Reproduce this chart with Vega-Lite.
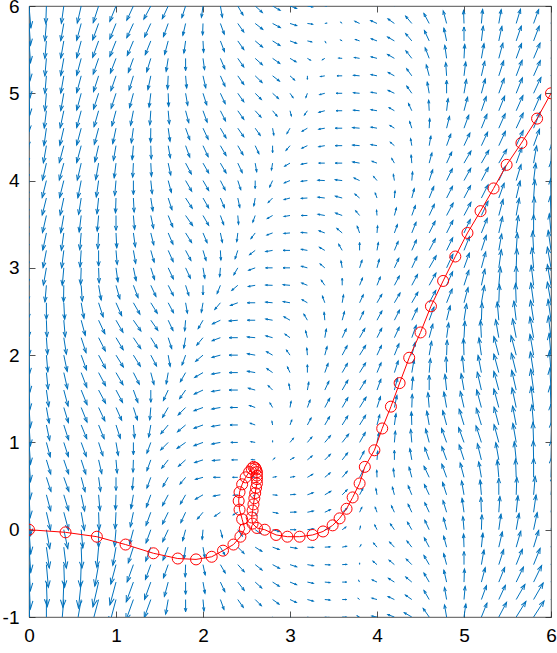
{
  "$schema": "https://vega.github.io/schema/vega-lite/v6.json",
  "width": 522,
  "height": 611,
  "autosize": {"type": "none"},
  "padding": {"left": 29, "top": 6, "right": 6, "bottom": 36},
  "background": "white",
  "config": {
    "view": {"stroke": "#262626", "strokeWidth": 0.8},
    "axis": {"domainColor": "#262626", "tickColor": "#262626", "labelColor": "#000000", "labelFont": "Liberation Sans", "labelFontSize": 19, "grid": false, "title": null, "domainWidth": 0.8, "tickWidth": 0.8, "labelFlush": false, "labelOverlap": false}
  },
  "datasets": {
    "field": [
{"x":0,"y":6,"a":-85,"m":0.25},{"x":0.2,"y":6,"a":-92,"m":0.2},{"x":0.4,"y":6,"a":-98,"m":0.2},{"x":0.6,"y":6,"a":-103,"m":0.2},{"x":0.8,"y":6,"a":-108,"m":0.2},{"x":1,"y":6,"a":-112,"m":0.19},{"x":1.2,"y":6,"a":-115,"m":0.18},{"x":1.4,"y":6,"a":-118,"m":0.17},{"x":1.6,"y":6,"a":-115,"m":0.16},{"x":1.8,"y":6,"a":-108,"m":0.14},{"x":2,"y":6,"a":-98,"m":0.13},{"x":2.2,"y":6,"a":-80,"m":0.13},{"x":2.4,"y":6,"a":-60,"m":0.12},{"x":2.6,"y":6,"a":-42,"m":0.11},{"x":2.8,"y":6,"a":-30,"m":0.1},{"x":3,"y":6,"a":-20,"m":0.08},{"x":3.2,"y":6,"a":-10,"m":0.06},{"x":3.4,"y":6,"a":0,"m":0.02},{"x":3.6,"y":6,"a":60,"m":0.02},{"x":3.8,"y":6,"a":130,"m":0.06},{"x":4,"y":6,"a":145,"m":0.08},{"x":4.2,"y":6,"a":140,"m":0.09},{"x":4.4,"y":6,"a":125,"m":0.11},{"x":4.6,"y":6,"a":112,"m":0.13},{"x":4.8,"y":6,"a":100,"m":0.15},{"x":5,"y":6,"a":90,"m":0.15},{"x":5.2,"y":6,"a":85,"m":0.16},{"x":5.4,"y":6,"a":80,"m":0.16},{"x":5.6,"y":6,"a":75,"m":0.17},{"x":5.8,"y":6,"a":72,"m":0.17},{"x":6,"y":6,"a":70,"m":0.18},
{"x":0,"y":5.8,"a":-86,"m":0.25},{"x":0.2,"y":5.8,"a":-95,"m":0.2},{"x":0.4,"y":5.8,"a":-100,"m":0.2},{"x":0.6,"y":5.8,"a":-105,"m":0.2},{"x":0.8,"y":5.8,"a":-110,"m":0.2},{"x":1,"y":5.8,"a":-112,"m":0.19},{"x":1.2,"y":5.8,"a":-115,"m":0.18},{"x":1.4,"y":5.8,"a":-115,"m":0.17},{"x":1.6,"y":5.8,"a":-110,"m":0.16},{"x":1.8,"y":5.8,"a":-103,"m":0.14},{"x":2,"y":5.8,"a":-92,"m":0.13},{"x":2.2,"y":5.8,"a":-70,"m":0.13},{"x":2.4,"y":5.8,"a":-55,"m":0.12},{"x":2.6,"y":5.8,"a":-38,"m":0.11},{"x":2.8,"y":5.8,"a":-28,"m":0.1},{"x":3,"y":5.8,"a":-18,"m":0.08},{"x":3.2,"y":5.8,"a":-8,"m":0.06},{"x":3.4,"y":5.8,"a":10,"m":0.02},{"x":3.6,"y":5.8,"a":140,"m":0.02},{"x":3.8,"y":5.8,"a":155,"m":0.06},{"x":4,"y":5.8,"a":155,"m":0.08},{"x":4.2,"y":5.8,"a":145,"m":0.09},{"x":4.4,"y":5.8,"a":130,"m":0.11},{"x":4.6,"y":5.8,"a":118,"m":0.13},{"x":4.8,"y":5.8,"a":105,"m":0.15},{"x":5,"y":5.8,"a":92,"m":0.15},{"x":5.2,"y":5.8,"a":85,"m":0.16},{"x":5.4,"y":5.8,"a":80,"m":0.16},{"x":5.6,"y":5.8,"a":73,"m":0.17},{"x":5.8,"y":5.8,"a":70,"m":0.17},{"x":6,"y":5.8,"a":70,"m":0.18},
{"x":0,"y":5.6,"a":-86,"m":0.25},{"x":0.2,"y":5.6,"a":-95,"m":0.2},{"x":0.4,"y":5.6,"a":-100,"m":0.2},{"x":0.6,"y":5.6,"a":-105,"m":0.2},{"x":0.8,"y":5.6,"a":-110,"m":0.2},{"x":1,"y":5.6,"a":-112,"m":0.19},{"x":1.2,"y":5.6,"a":-113,"m":0.18},{"x":1.4,"y":5.6,"a":-112,"m":0.17},{"x":1.6,"y":5.6,"a":-105,"m":0.16},{"x":1.8,"y":5.6,"a":-98,"m":0.14},{"x":2,"y":5.6,"a":-87,"m":0.13},{"x":2.2,"y":5.6,"a":-69,"m":0.13},{"x":2.4,"y":5.6,"a":-55,"m":0.12},{"x":2.6,"y":5.6,"a":-40,"m":0.11},{"x":2.8,"y":5.6,"a":-32,"m":0.1},{"x":3,"y":5.6,"a":-20,"m":0.08},{"x":3.2,"y":5.6,"a":-12,"m":0.05},{"x":3.4,"y":5.6,"a":-60,"m":0.02},{"x":3.6,"y":5.6,"a":150,"m":0.02},{"x":3.8,"y":5.6,"a":160,"m":0.05},{"x":4,"y":5.6,"a":160,"m":0.07},{"x":4.2,"y":5.6,"a":150,"m":0.09},{"x":4.4,"y":5.6,"a":130,"m":0.11},{"x":4.6,"y":5.6,"a":115,"m":0.13},{"x":4.8,"y":5.6,"a":102,"m":0.15},{"x":5,"y":5.6,"a":90,"m":0.16},{"x":5.2,"y":5.6,"a":83,"m":0.17},{"x":5.4,"y":5.6,"a":78,"m":0.17},{"x":5.6,"y":5.6,"a":71,"m":0.18},{"x":5.8,"y":5.6,"a":69,"m":0.18},{"x":6,"y":5.6,"a":69,"m":0.19},
{"x":0,"y":5.4,"a":-87,"m":0.25},{"x":0.2,"y":5.4,"a":-95,"m":0.2},{"x":0.4,"y":5.4,"a":-100,"m":0.2},{"x":0.6,"y":5.4,"a":-105,"m":0.2},{"x":0.8,"y":5.4,"a":-109,"m":0.19},{"x":1,"y":5.4,"a":-111,"m":0.18},{"x":1.2,"y":5.4,"a":-110,"m":0.17},{"x":1.4,"y":5.4,"a":-107,"m":0.16},{"x":1.6,"y":5.4,"a":-99,"m":0.15},{"x":1.8,"y":5.4,"a":-90,"m":0.14},{"x":2,"y":5.4,"a":-82,"m":0.13},{"x":2.2,"y":5.4,"a":-67,"m":0.13},{"x":2.4,"y":5.4,"a":-55,"m":0.12},{"x":2.6,"y":5.4,"a":-42,"m":0.11},{"x":2.8,"y":5.4,"a":-35,"m":0.1},{"x":3,"y":5.4,"a":-30,"m":0.08},{"x":3.2,"y":5.4,"a":-30,"m":0.04},{"x":3.4,"y":5.4,"a":-150,"m":0.03},{"x":3.6,"y":5.4,"a":175,"m":0.04},{"x":3.8,"y":5.4,"a":170,"m":0.06},{"x":4,"y":5.4,"a":165,"m":0.07},{"x":4.2,"y":5.4,"a":150,"m":0.09},{"x":4.4,"y":5.4,"a":128,"m":0.11},{"x":4.6,"y":5.4,"a":111,"m":0.13},{"x":4.8,"y":5.4,"a":98,"m":0.15},{"x":5,"y":5.4,"a":87,"m":0.16},{"x":5.2,"y":5.4,"a":80,"m":0.17},{"x":5.4,"y":5.4,"a":75,"m":0.18},{"x":5.6,"y":5.4,"a":70,"m":0.18},{"x":5.8,"y":5.4,"a":67,"m":0.19},{"x":6,"y":5.4,"a":67,"m":0.19},
{"x":0,"y":5.2,"a":-87,"m":0.25},{"x":0.2,"y":5.2,"a":-95,"m":0.2},{"x":0.4,"y":5.2,"a":-100,"m":0.2},{"x":0.6,"y":5.2,"a":-105,"m":0.2},{"x":0.8,"y":5.2,"a":-108,"m":0.19},{"x":1,"y":5.2,"a":-109,"m":0.18},{"x":1.2,"y":5.2,"a":-107,"m":0.17},{"x":1.4,"y":5.2,"a":-102,"m":0.16},{"x":1.6,"y":5.2,"a":-93,"m":0.15},{"x":1.8,"y":5.2,"a":-85,"m":0.14},{"x":2,"y":5.2,"a":-77,"m":0.14},{"x":2.2,"y":5.2,"a":-66,"m":0.13},{"x":2.4,"y":5.2,"a":-55,"m":0.12},{"x":2.6,"y":5.2,"a":-44,"m":0.11},{"x":2.8,"y":5.2,"a":-38,"m":0.1},{"x":3,"y":5.2,"a":-42,"m":0.07},{"x":3.2,"y":5.2,"a":-90,"m":0.04},{"x":3.4,"y":5.2,"a":-170,"m":0.05},{"x":3.6,"y":5.2,"a":180,"m":0.06},{"x":3.8,"y":5.2,"a":175,"m":0.07},{"x":4,"y":5.2,"a":168,"m":0.07},{"x":4.2,"y":5.2,"a":152,"m":0.08},{"x":4.4,"y":5.2,"a":126,"m":0.1},{"x":4.6,"y":5.2,"a":105,"m":0.13},{"x":4.8,"y":5.2,"a":94,"m":0.15},{"x":5,"y":5.2,"a":83,"m":0.16},{"x":5.2,"y":5.2,"a":77,"m":0.17},{"x":5.4,"y":5.2,"a":72,"m":0.18},{"x":5.6,"y":5.2,"a":69,"m":0.19},{"x":5.8,"y":5.2,"a":66,"m":0.19},{"x":6,"y":5.2,"a":66,"m":0.2},
{"x":0,"y":5,"a":-88,"m":0.25},{"x":0.2,"y":5,"a":-95,"m":0.2},{"x":0.4,"y":5,"a":-100,"m":0.2},{"x":0.6,"y":5,"a":-105,"m":0.2},{"x":0.8,"y":5,"a":-108,"m":0.19},{"x":1,"y":5,"a":-108,"m":0.18},{"x":1.2,"y":5,"a":-105,"m":0.17},{"x":1.4,"y":5,"a":-97,"m":0.16},{"x":1.6,"y":5,"a":-88,"m":0.15},{"x":1.8,"y":5,"a":-80,"m":0.14},{"x":2,"y":5,"a":-72,"m":0.14},{"x":2.2,"y":5,"a":-65,"m":0.13},{"x":2.4,"y":5,"a":-55,"m":0.12},{"x":2.6,"y":5,"a":-45,"m":0.1},{"x":2.8,"y":5,"a":-42,"m":0.09},{"x":3,"y":5,"a":-55,"m":0.06},{"x":3.2,"y":5,"a":-110,"m":0.05},{"x":3.4,"y":5,"a":-165,"m":0.06},{"x":3.6,"y":5,"a":180,"m":0.07},{"x":3.8,"y":5,"a":175,"m":0.07},{"x":4,"y":5,"a":170,"m":0.07},{"x":4.2,"y":5,"a":155,"m":0.08},{"x":4.4,"y":5,"a":125,"m":0.1},{"x":4.6,"y":5,"a":100,"m":0.13},{"x":4.8,"y":5,"a":90,"m":0.15},{"x":5,"y":5,"a":80,"m":0.16},{"x":5.2,"y":5,"a":75,"m":0.17},{"x":5.4,"y":5,"a":70,"m":0.18},{"x":5.6,"y":5,"a":68,"m":0.19},{"x":5.8,"y":5,"a":65,"m":0.2},{"x":6,"y":5,"a":65,"m":0.2},
{"x":0,"y":4.8,"a":-90,"m":0.24},{"x":0.2,"y":4.8,"a":-97,"m":0.2},{"x":0.4,"y":4.8,"a":-102,"m":0.2},{"x":0.6,"y":4.8,"a":-105,"m":0.2},{"x":0.8,"y":4.8,"a":-106,"m":0.19},{"x":1,"y":4.8,"a":-105,"m":0.18},{"x":1.2,"y":4.8,"a":-101,"m":0.17},{"x":1.4,"y":4.8,"a":-94,"m":0.16},{"x":1.6,"y":4.8,"a":-85,"m":0.15},{"x":1.8,"y":4.8,"a":-75,"m":0.14},{"x":2,"y":4.8,"a":-70,"m":0.14},{"x":2.2,"y":4.8,"a":-63,"m":0.13},{"x":2.4,"y":4.8,"a":-55,"m":0.12},{"x":2.6,"y":4.8,"a":-48,"m":0.1},{"x":2.8,"y":4.8,"a":-50,"m":0.08},{"x":3,"y":4.8,"a":-75,"m":0.06},{"x":3.2,"y":4.8,"a":-125,"m":0.06},{"x":3.4,"y":4.8,"a":-165,"m":0.07},{"x":3.6,"y":4.8,"a":180,"m":0.07},{"x":3.8,"y":4.8,"a":175,"m":0.07},{"x":4,"y":4.8,"a":170,"m":0.07},{"x":4.2,"y":4.8,"a":150,"m":0.07},{"x":4.4,"y":4.8,"a":115,"m":0.09},{"x":4.6,"y":4.8,"a":93,"m":0.12},{"x":4.8,"y":4.8,"a":83,"m":0.14},{"x":5,"y":4.8,"a":75,"m":0.16},{"x":5.2,"y":4.8,"a":71,"m":0.17},{"x":5.4,"y":4.8,"a":68,"m":0.18},{"x":5.6,"y":4.8,"a":66,"m":0.19},{"x":5.8,"y":4.8,"a":66,"m":0.2},{"x":6,"y":4.8,"a":68,"m":0.2},
{"x":0,"y":4.6,"a":-93,"m":0.22},{"x":0.2,"y":4.6,"a":-98,"m":0.2},{"x":0.4,"y":4.6,"a":-103,"m":0.2},{"x":0.6,"y":4.6,"a":-105,"m":0.2},{"x":0.8,"y":4.6,"a":-105,"m":0.19},{"x":1,"y":4.6,"a":-102,"m":0.18},{"x":1.2,"y":4.6,"a":-98,"m":0.17},{"x":1.4,"y":4.6,"a":-91,"m":0.16},{"x":1.6,"y":4.6,"a":-82,"m":0.15},{"x":1.8,"y":4.6,"a":-70,"m":0.14},{"x":2,"y":4.6,"a":-65,"m":0.14},{"x":2.2,"y":4.6,"a":-60,"m":0.13},{"x":2.4,"y":4.6,"a":-55,"m":0.12},{"x":2.6,"y":4.6,"a":-55,"m":0.1},{"x":2.8,"y":4.6,"a":-80,"m":0.08},{"x":3,"y":4.6,"a":-120,"m":0.07},{"x":3.2,"y":4.6,"a":-150,"m":0.07},{"x":3.4,"y":4.6,"a":-170,"m":0.07},{"x":3.6,"y":4.6,"a":180,"m":0.08},{"x":3.8,"y":4.6,"a":175,"m":0.08},{"x":4,"y":4.6,"a":170,"m":0.07},{"x":4.2,"y":4.6,"a":148,"m":0.06},{"x":4.4,"y":4.6,"a":108,"m":0.08},{"x":4.6,"y":4.6,"a":87,"m":0.11},{"x":4.8,"y":4.6,"a":76,"m":0.14},{"x":5,"y":4.6,"a":70,"m":0.16},{"x":5.2,"y":4.6,"a":68,"m":0.17},{"x":5.4,"y":4.6,"a":66,"m":0.18},{"x":5.6,"y":4.6,"a":65,"m":0.19},{"x":5.8,"y":4.6,"a":68,"m":0.2},{"x":6,"y":4.6,"a":72,"m":0.2},
{"x":0,"y":4.4,"a":-95,"m":0.2},{"x":0.2,"y":4.4,"a":-100,"m":0.2},{"x":0.4,"y":4.4,"a":-105,"m":0.2},{"x":0.6,"y":4.4,"a":-105,"m":0.2},{"x":0.8,"y":4.4,"a":-103,"m":0.19},{"x":1,"y":4.4,"a":-100,"m":0.17},{"x":1.2,"y":4.4,"a":-95,"m":0.16},{"x":1.4,"y":4.4,"a":-88,"m":0.15},{"x":1.6,"y":4.4,"a":-80,"m":0.14},{"x":1.8,"y":4.4,"a":-70,"m":0.14},{"x":2,"y":4.4,"a":-65,"m":0.14},{"x":2.2,"y":4.4,"a":-60,"m":0.13},{"x":2.4,"y":4.4,"a":-60,"m":0.12},{"x":2.6,"y":4.4,"a":-65,"m":0.1},{"x":2.8,"y":4.4,"a":-90,"m":0.08},{"x":3,"y":4.4,"a":-130,"m":0.07},{"x":3.2,"y":4.4,"a":-155,"m":0.07},{"x":3.4,"y":4.4,"a":-170,"m":0.07},{"x":3.6,"y":4.4,"a":180,"m":0.08},{"x":3.8,"y":4.4,"a":175,"m":0.08},{"x":4,"y":4.4,"a":170,"m":0.07},{"x":4.2,"y":4.4,"a":140,"m":0.06},{"x":4.4,"y":4.4,"a":100,"m":0.08},{"x":4.6,"y":4.4,"a":80,"m":0.11},{"x":4.8,"y":4.4,"a":70,"m":0.14},{"x":5,"y":4.4,"a":65,"m":0.16},{"x":5.2,"y":4.4,"a":65,"m":0.17},{"x":5.4,"y":4.4,"a":65,"m":0.18},{"x":5.6,"y":4.4,"a":65,"m":0.19},{"x":5.8,"y":4.4,"a":70,"m":0.2},{"x":6,"y":4.4,"a":75,"m":0.21},
{"x":0,"y":4.2,"a":-96,"m":0.18},{"x":0.2,"y":4.2,"a":-103,"m":0.2},{"x":0.4,"y":4.2,"a":-105,"m":0.2},{"x":0.6,"y":4.2,"a":-103,"m":0.2},{"x":0.8,"y":4.2,"a":-100,"m":0.19},{"x":1,"y":4.2,"a":-97,"m":0.17},{"x":1.2,"y":4.2,"a":-93,"m":0.16},{"x":1.4,"y":4.2,"a":-87,"m":0.15},{"x":1.6,"y":4.2,"a":-78,"m":0.14},{"x":1.8,"y":4.2,"a":-62,"m":0.14},{"x":2,"y":4.2,"a":-60,"m":0.13},{"x":2.2,"y":4.2,"a":-60,"m":0.13},{"x":2.4,"y":4.2,"a":-65,"m":0.12},{"x":2.6,"y":4.2,"a":-80,"m":0.1},{"x":2.8,"y":4.2,"a":-100,"m":0.08},{"x":3,"y":4.2,"a":-150,"m":0.07},{"x":3.2,"y":4.2,"a":-170,"m":0.07},{"x":3.4,"y":4.2,"a":180,"m":0.07},{"x":3.6,"y":4.2,"a":180,"m":0.08},{"x":3.8,"y":4.2,"a":170,"m":0.08},{"x":4,"y":4.2,"a":160,"m":0.06},{"x":4.2,"y":4.2,"a":120,"m":0.06},{"x":4.4,"y":4.2,"a":95,"m":0.09},{"x":4.6,"y":4.2,"a":75,"m":0.12},{"x":4.8,"y":4.2,"a":65,"m":0.14},{"x":5,"y":4.2,"a":60,"m":0.16},{"x":5.2,"y":4.2,"a":60,"m":0.17},{"x":5.4,"y":4.2,"a":60,"m":0.18},{"x":5.6,"y":4.2,"a":70,"m":0.19},{"x":5.8,"y":4.2,"a":80,"m":0.2},{"x":6,"y":4.2,"a":88,"m":0.21},
{"x":0,"y":4,"a":-97,"m":0.18},{"x":0.2,"y":4,"a":-104,"m":0.2},{"x":0.4,"y":4,"a":-104,"m":0.2},{"x":0.6,"y":4,"a":-101,"m":0.2},{"x":0.8,"y":4,"a":-98,"m":0.19},{"x":1,"y":4,"a":-95,"m":0.17},{"x":1.2,"y":4,"a":-90,"m":0.16},{"x":1.4,"y":4,"a":-84,"m":0.15},{"x":1.6,"y":4,"a":-75,"m":0.14},{"x":1.8,"y":4,"a":-60,"m":0.14},{"x":2,"y":4,"a":-60,"m":0.13},{"x":2.2,"y":4,"a":-63,"m":0.12},{"x":2.4,"y":4,"a":-72,"m":0.11},{"x":2.6,"y":4,"a":-90,"m":0.09},{"x":2.8,"y":4,"a":-115,"m":0.08},{"x":3,"y":4,"a":-158,"m":0.07},{"x":3.2,"y":4,"a":-173,"m":0.07},{"x":3.4,"y":4,"a":177,"m":0.08},{"x":3.6,"y":4,"a":173,"m":0.08},{"x":3.8,"y":4,"a":155,"m":0.07},{"x":4,"y":4,"a":130,"m":0.06},{"x":4.2,"y":4,"a":100,"m":0.07},{"x":4.4,"y":4,"a":85,"m":0.1},{"x":4.6,"y":4,"a":72,"m":0.13},{"x":4.8,"y":4,"a":64,"m":0.15},{"x":5,"y":4,"a":61,"m":0.16},{"x":5.2,"y":4,"a":62,"m":0.17},{"x":5.4,"y":4,"a":65,"m":0.18},{"x":5.6,"y":4,"a":73,"m":0.19},{"x":5.8,"y":4,"a":83,"m":0.2},{"x":6,"y":4,"a":90,"m":0.22},
{"x":0,"y":3.8,"a":-97,"m":0.18},{"x":0.2,"y":3.8,"a":-104,"m":0.2},{"x":0.4,"y":3.8,"a":-102,"m":0.2},{"x":0.6,"y":3.8,"a":-99,"m":0.19},{"x":0.8,"y":3.8,"a":-96,"m":0.18},{"x":1,"y":3.8,"a":-92,"m":0.17},{"x":1.2,"y":3.8,"a":-87,"m":0.16},{"x":1.4,"y":3.8,"a":-81,"m":0.15},{"x":1.6,"y":3.8,"a":-72,"m":0.14},{"x":1.8,"y":3.8,"a":-57,"m":0.14},{"x":2,"y":3.8,"a":-60,"m":0.13},{"x":2.2,"y":3.8,"a":-67,"m":0.12},{"x":2.4,"y":3.8,"a":-78,"m":0.11},{"x":2.6,"y":3.8,"a":-100,"m":0.09},{"x":2.8,"y":3.8,"a":-135,"m":0.07},{"x":3,"y":3.8,"a":-165,"m":0.07},{"x":3.2,"y":3.8,"a":-177,"m":0.07},{"x":3.4,"y":3.8,"a":173,"m":0.08},{"x":3.6,"y":3.8,"a":165,"m":0.08},{"x":3.8,"y":3.8,"a":140,"m":0.07},{"x":4,"y":3.8,"a":110,"m":0.06},{"x":4.2,"y":3.8,"a":85,"m":0.08},{"x":4.4,"y":3.8,"a":75,"m":0.11},{"x":4.6,"y":3.8,"a":68,"m":0.14},{"x":4.8,"y":3.8,"a":63,"m":0.15},{"x":5,"y":3.8,"a":62,"m":0.16},{"x":5.2,"y":3.8,"a":63,"m":0.17},{"x":5.4,"y":3.8,"a":70,"m":0.18},{"x":5.6,"y":3.8,"a":77,"m":0.2},{"x":5.8,"y":3.8,"a":86,"m":0.21},{"x":6,"y":3.8,"a":91,"m":0.22},
{"x":0,"y":3.6,"a":-97,"m":0.18},{"x":0.2,"y":3.6,"a":-103,"m":0.2},{"x":0.4,"y":3.6,"a":-100,"m":0.2},{"x":0.6,"y":3.6,"a":-97,"m":0.19},{"x":0.8,"y":3.6,"a":-95,"m":0.18},{"x":1,"y":3.6,"a":-90,"m":0.17},{"x":1.2,"y":3.6,"a":-85,"m":0.16},{"x":1.4,"y":3.6,"a":-78,"m":0.15},{"x":1.6,"y":3.6,"a":-68,"m":0.14},{"x":1.8,"y":3.6,"a":-55,"m":0.14},{"x":2,"y":3.6,"a":-60,"m":0.13},{"x":2.2,"y":3.6,"a":-70,"m":0.11},{"x":2.4,"y":3.6,"a":-85,"m":0.1},{"x":2.6,"y":3.6,"a":-110,"m":0.08},{"x":2.8,"y":3.6,"a":-150,"m":0.07},{"x":3,"y":3.6,"a":-170,"m":0.07},{"x":3.2,"y":3.6,"a":180,"m":0.07},{"x":3.4,"y":3.6,"a":170,"m":0.08},{"x":3.6,"y":3.6,"a":160,"m":0.08},{"x":3.8,"y":3.6,"a":130,"m":0.07},{"x":4,"y":3.6,"a":95,"m":0.06},{"x":4.2,"y":3.6,"a":75,"m":0.09},{"x":4.4,"y":3.6,"a":70,"m":0.12},{"x":4.6,"y":3.6,"a":65,"m":0.14},{"x":4.8,"y":3.6,"a":62,"m":0.16},{"x":5,"y":3.6,"a":62,"m":0.17},{"x":5.2,"y":3.6,"a":65,"m":0.18},{"x":5.4,"y":3.6,"a":75,"m":0.19},{"x":5.6,"y":3.6,"a":80,"m":0.2},{"x":5.8,"y":3.6,"a":88,"m":0.21},{"x":6,"y":3.6,"a":92,"m":0.22},
{"x":0,"y":3.4,"a":-97,"m":0.18},{"x":0.2,"y":3.4,"a":-102,"m":0.2},{"x":0.4,"y":3.4,"a":-98,"m":0.2},{"x":0.6,"y":3.4,"a":-95,"m":0.19},{"x":0.8,"y":3.4,"a":-93,"m":0.18},{"x":1,"y":3.4,"a":-87,"m":0.17},{"x":1.2,"y":3.4,"a":-82,"m":0.16},{"x":1.4,"y":3.4,"a":-76,"m":0.14},{"x":1.6,"y":3.4,"a":-67,"m":0.14},{"x":1.8,"y":3.4,"a":-58,"m":0.13},{"x":2,"y":3.4,"a":-67,"m":0.12},{"x":2.2,"y":3.4,"a":-78,"m":0.11},{"x":2.4,"y":3.4,"a":-97,"m":0.1},{"x":2.6,"y":3.4,"a":-127,"m":0.08},{"x":2.8,"y":3.4,"a":-160,"m":0.07},{"x":3,"y":3.4,"a":-175,"m":0.07},{"x":3.2,"y":3.4,"a":175,"m":0.07},{"x":3.4,"y":3.4,"a":160,"m":0.07},{"x":3.6,"y":3.4,"a":140,"m":0.08},{"x":3.8,"y":3.4,"a":110,"m":0.08},{"x":4,"y":3.4,"a":85,"m":0.08},{"x":4.2,"y":3.4,"a":70,"m":0.1},{"x":4.4,"y":3.4,"a":68,"m":0.13},{"x":4.6,"y":3.4,"a":63,"m":0.15},{"x":4.8,"y":3.4,"a":63,"m":0.16},{"x":5,"y":3.4,"a":65,"m":0.17},{"x":5.2,"y":3.4,"a":68,"m":0.18},{"x":5.4,"y":3.4,"a":77,"m":0.19},{"x":5.6,"y":3.4,"a":83,"m":0.2},{"x":5.8,"y":3.4,"a":90,"m":0.21},{"x":6,"y":3.4,"a":95,"m":0.22},
{"x":0,"y":3.2,"a":-96,"m":0.18},{"x":0.2,"y":3.2,"a":-101,"m":0.2},{"x":0.4,"y":3.2,"a":-97,"m":0.2},{"x":0.6,"y":3.2,"a":-94,"m":0.19},{"x":0.8,"y":3.2,"a":-90,"m":0.18},{"x":1,"y":3.2,"a":-85,"m":0.16},{"x":1.2,"y":3.2,"a":-80,"m":0.15},{"x":1.4,"y":3.2,"a":-74,"m":0.14},{"x":1.6,"y":3.2,"a":-66,"m":0.14},{"x":1.8,"y":3.2,"a":-62,"m":0.13},{"x":2,"y":3.2,"a":-73,"m":0.12},{"x":2.2,"y":3.2,"a":-87,"m":0.11},{"x":2.4,"y":3.2,"a":-108,"m":0.1},{"x":2.6,"y":3.2,"a":-143,"m":0.08},{"x":2.8,"y":3.2,"a":-170,"m":0.08},{"x":3,"y":3.2,"a":180,"m":0.08},{"x":3.2,"y":3.2,"a":170,"m":0.07},{"x":3.4,"y":3.2,"a":150,"m":0.07},{"x":3.6,"y":3.2,"a":120,"m":0.08},{"x":3.8,"y":3.2,"a":90,"m":0.09},{"x":4,"y":3.2,"a":80,"m":0.09},{"x":4.2,"y":3.2,"a":67,"m":0.11},{"x":4.4,"y":3.2,"a":66,"m":0.13},{"x":4.6,"y":3.2,"a":62,"m":0.15},{"x":4.8,"y":3.2,"a":64,"m":0.16},{"x":5,"y":3.2,"a":68,"m":0.17},{"x":5.2,"y":3.2,"a":72,"m":0.18},{"x":5.4,"y":3.2,"a":80,"m":0.19},{"x":5.6,"y":3.2,"a":86,"m":0.2},{"x":5.8,"y":3.2,"a":93,"m":0.22},{"x":6,"y":3.2,"a":98,"m":0.23},
{"x":0,"y":3,"a":-95,"m":0.18},{"x":0.2,"y":3,"a":-100,"m":0.2},{"x":0.4,"y":3,"a":-95,"m":0.2},{"x":0.6,"y":3,"a":-92,"m":0.19},{"x":0.8,"y":3,"a":-88,"m":0.17},{"x":1,"y":3,"a":-82,"m":0.16},{"x":1.2,"y":3,"a":-78,"m":0.15},{"x":1.4,"y":3,"a":-72,"m":0.14},{"x":1.6,"y":3,"a":-65,"m":0.14},{"x":1.8,"y":3,"a":-65,"m":0.13},{"x":2,"y":3,"a":-80,"m":0.12},{"x":2.2,"y":3,"a":-95,"m":0.1},{"x":2.4,"y":3,"a":-120,"m":0.09},{"x":2.6,"y":3,"a":-160,"m":0.08},{"x":2.8,"y":3,"a":180,"m":0.08},{"x":3,"y":3,"a":180,"m":0.08},{"x":3.2,"y":3,"a":165,"m":0.07},{"x":3.4,"y":3,"a":140,"m":0.07},{"x":3.6,"y":3,"a":100,"m":0.08},{"x":3.8,"y":3,"a":72,"m":0.09},{"x":4,"y":3,"a":75,"m":0.1},{"x":4.2,"y":3,"a":65,"m":0.12},{"x":4.4,"y":3,"a":65,"m":0.14},{"x":4.6,"y":3,"a":60,"m":0.16},{"x":4.8,"y":3,"a":65,"m":0.17},{"x":5,"y":3,"a":70,"m":0.18},{"x":5.2,"y":3,"a":75,"m":0.19},{"x":5.4,"y":3,"a":82,"m":0.21},{"x":5.6,"y":3,"a":88,"m":0.22},{"x":5.8,"y":3,"a":95,"m":0.23},{"x":6,"y":3,"a":100,"m":0.24},
{"x":0,"y":2.8,"a":-94,"m":0.18},{"x":0.2,"y":2.8,"a":-95,"m":0.19},{"x":0.4,"y":2.8,"a":-91,"m":0.19},{"x":0.6,"y":2.8,"a":-86,"m":0.18},{"x":0.8,"y":2.8,"a":-80,"m":0.17},{"x":1,"y":2.8,"a":-74,"m":0.16},{"x":1.2,"y":2.8,"a":-69,"m":0.15},{"x":1.4,"y":2.8,"a":-65,"m":0.14},{"x":1.6,"y":2.8,"a":-63,"m":0.13},{"x":1.8,"y":2.8,"a":-72,"m":0.12},{"x":2,"y":2.8,"a":-90,"m":0.11},{"x":2.2,"y":2.8,"a":-112,"m":0.1},{"x":2.4,"y":2.8,"a":-140,"m":0.09},{"x":2.6,"y":2.8,"a":-170,"m":0.08},{"x":2.8,"y":2.8,"a":178,"m":0.08},{"x":3,"y":2.8,"a":175,"m":0.08},{"x":3.2,"y":2.8,"a":158,"m":0.07},{"x":3.4,"y":2.8,"a":125,"m":0.07},{"x":3.6,"y":2.8,"a":90,"m":0.08},{"x":3.8,"y":2.8,"a":68,"m":0.09},{"x":4,"y":2.8,"a":68,"m":0.1},{"x":4.2,"y":2.8,"a":62,"m":0.12},{"x":4.4,"y":2.8,"a":62,"m":0.14},{"x":4.6,"y":2.8,"a":61,"m":0.16},{"x":4.8,"y":2.8,"a":66,"m":0.17},{"x":5,"y":2.8,"a":72,"m":0.18},{"x":5.2,"y":2.8,"a":78,"m":0.19},{"x":5.4,"y":2.8,"a":85,"m":0.21},{"x":5.6,"y":2.8,"a":90,"m":0.22},{"x":5.8,"y":2.8,"a":97,"m":0.23},{"x":6,"y":2.8,"a":100,"m":0.24},
{"x":0,"y":2.6,"a":-92,"m":0.18},{"x":0.2,"y":2.6,"a":-90,"m":0.19},{"x":0.4,"y":2.6,"a":-87,"m":0.19},{"x":0.6,"y":2.6,"a":-80,"m":0.18},{"x":0.8,"y":2.6,"a":-72,"m":0.17},{"x":1,"y":2.6,"a":-66,"m":0.16},{"x":1.2,"y":2.6,"a":-60,"m":0.15},{"x":1.4,"y":2.6,"a":-58,"m":0.14},{"x":1.6,"y":2.6,"a":-62,"m":0.13},{"x":1.8,"y":2.6,"a":-80,"m":0.12},{"x":2,"y":2.6,"a":-100,"m":0.11},{"x":2.2,"y":2.6,"a":-130,"m":0.1},{"x":2.4,"y":2.6,"a":-160,"m":0.09},{"x":2.6,"y":2.6,"a":180,"m":0.09},{"x":2.8,"y":2.6,"a":175,"m":0.08},{"x":3,"y":2.6,"a":170,"m":0.08},{"x":3.2,"y":2.6,"a":150,"m":0.07},{"x":3.4,"y":2.6,"a":110,"m":0.08},{"x":3.6,"y":2.6,"a":80,"m":0.09},{"x":3.8,"y":2.6,"a":65,"m":0.1},{"x":4,"y":2.6,"a":60,"m":0.11},{"x":4.2,"y":2.6,"a":60,"m":0.13},{"x":4.4,"y":2.6,"a":60,"m":0.14},{"x":4.6,"y":2.6,"a":62,"m":0.16},{"x":4.8,"y":2.6,"a":68,"m":0.17},{"x":5,"y":2.6,"a":75,"m":0.18},{"x":5.2,"y":2.6,"a":80,"m":0.2},{"x":5.4,"y":2.6,"a":88,"m":0.21},{"x":5.6,"y":2.6,"a":92,"m":0.22},{"x":5.8,"y":2.6,"a":98,"m":0.23},{"x":6,"y":2.6,"a":100,"m":0.24},
{"x":0,"y":2.4,"a":-90,"m":0.19},{"x":0.2,"y":2.4,"a":-88,"m":0.19},{"x":0.4,"y":2.4,"a":-85,"m":0.19},{"x":0.6,"y":2.4,"a":-75,"m":0.18},{"x":0.8,"y":2.4,"a":-65,"m":0.17},{"x":1,"y":2.4,"a":-60,"m":0.16},{"x":1.2,"y":2.4,"a":-55,"m":0.15},{"x":1.4,"y":2.4,"a":-55,"m":0.14},{"x":1.6,"y":2.4,"a":-65,"m":0.13},{"x":1.8,"y":2.4,"a":-95,"m":0.12},{"x":2,"y":2.4,"a":-120,"m":0.11},{"x":2.2,"y":2.4,"a":-155,"m":0.1},{"x":2.4,"y":2.4,"a":-175,"m":0.1},{"x":2.6,"y":2.4,"a":180,"m":0.09},{"x":2.8,"y":2.4,"a":170,"m":0.08},{"x":3,"y":2.4,"a":150,"m":0.08},{"x":3.2,"y":2.4,"a":120,"m":0.08},{"x":3.4,"y":2.4,"a":95,"m":0.09},{"x":3.6,"y":2.4,"a":75,"m":0.1},{"x":3.8,"y":2.4,"a":65,"m":0.11},{"x":4,"y":2.4,"a":62,"m":0.12},{"x":4.2,"y":2.4,"a":63,"m":0.13},{"x":4.4,"y":2.4,"a":65,"m":0.15},{"x":4.6,"y":2.4,"a":70,"m":0.16},{"x":4.8,"y":2.4,"a":76,"m":0.17},{"x":5,"y":2.4,"a":81,"m":0.19},{"x":5.2,"y":2.4,"a":88,"m":0.2},{"x":5.4,"y":2.4,"a":95,"m":0.21},{"x":5.6,"y":2.4,"a":97,"m":0.22},{"x":5.8,"y":2.4,"a":99,"m":0.23},{"x":6,"y":2.4,"a":98,"m":0.24},
{"x":0,"y":2.2,"a":-89,"m":0.2},{"x":0.2,"y":2.2,"a":-86,"m":0.19},{"x":0.4,"y":2.2,"a":-81,"m":0.19},{"x":0.6,"y":2.2,"a":-72,"m":0.18},{"x":0.8,"y":2.2,"a":-63,"m":0.17},{"x":1,"y":2.2,"a":-59,"m":0.16},{"x":1.2,"y":2.2,"a":-56,"m":0.15},{"x":1.4,"y":2.2,"a":-58,"m":0.14},{"x":1.6,"y":2.2,"a":-72,"m":0.13},{"x":1.8,"y":2.2,"a":-100,"m":0.12},{"x":2,"y":2.2,"a":-130,"m":0.11},{"x":2.2,"y":2.2,"a":-160,"m":0.1},{"x":2.4,"y":2.2,"a":180,"m":0.1},{"x":2.6,"y":2.2,"a":175,"m":0.09},{"x":2.8,"y":2.2,"a":165,"m":0.08},{"x":3,"y":2.2,"a":145,"m":0.07},{"x":3.2,"y":2.2,"a":105,"m":0.08},{"x":3.4,"y":2.2,"a":80,"m":0.1},{"x":3.6,"y":2.2,"a":65,"m":0.11},{"x":3.8,"y":2.2,"a":60,"m":0.12},{"x":4,"y":2.2,"a":63,"m":0.12},{"x":4.2,"y":2.2,"a":65,"m":0.13},{"x":4.4,"y":2.2,"a":70,"m":0.15},{"x":4.6,"y":2.2,"a":75,"m":0.16},{"x":4.8,"y":2.2,"a":82,"m":0.17},{"x":5,"y":2.2,"a":87,"m":0.19},{"x":5.2,"y":2.2,"a":93,"m":0.2},{"x":5.4,"y":2.2,"a":100,"m":0.21},{"x":5.6,"y":2.2,"a":101,"m":0.22},{"x":5.8,"y":2.2,"a":100,"m":0.24},{"x":6,"y":2.2,"a":97,"m":0.25},
{"x":0,"y":2,"a":-88,"m":0.21},{"x":0.2,"y":2,"a":-85,"m":0.19},{"x":0.4,"y":2,"a":-78,"m":0.19},{"x":0.6,"y":2,"a":-70,"m":0.18},{"x":0.8,"y":2,"a":-62,"m":0.17},{"x":1,"y":2,"a":-58,"m":0.16},{"x":1.2,"y":2,"a":-58,"m":0.15},{"x":1.4,"y":2,"a":-62,"m":0.14},{"x":1.6,"y":2,"a":-80,"m":0.13},{"x":1.8,"y":2,"a":-110,"m":0.12},{"x":2,"y":2,"a":-140,"m":0.11},{"x":2.2,"y":2,"a":-165,"m":0.1},{"x":2.4,"y":2,"a":180,"m":0.1},{"x":2.6,"y":2,"a":170,"m":0.09},{"x":2.8,"y":2,"a":150,"m":0.08},{"x":3,"y":2,"a":125,"m":0.07},{"x":3.2,"y":2,"a":95,"m":0.08},{"x":3.4,"y":2,"a":75,"m":0.1},{"x":3.6,"y":2,"a":62,"m":0.12},{"x":3.8,"y":2,"a":58,"m":0.13},{"x":4,"y":2,"a":65,"m":0.12},{"x":4.2,"y":2,"a":68,"m":0.14},{"x":4.4,"y":2,"a":75,"m":0.15},{"x":4.6,"y":2,"a":80,"m":0.16},{"x":4.8,"y":2,"a":88,"m":0.17},{"x":5,"y":2,"a":92,"m":0.19},{"x":5.2,"y":2,"a":98,"m":0.2},{"x":5.4,"y":2,"a":105,"m":0.22},{"x":5.6,"y":2,"a":105,"m":0.23},{"x":5.8,"y":2,"a":100,"m":0.24},{"x":6,"y":2,"a":95,"m":0.25},
{"x":0,"y":1.8,"a":-87,"m":0.22},{"x":0.2,"y":1.8,"a":-84,"m":0.19},{"x":0.4,"y":1.8,"a":-77,"m":0.19},{"x":0.6,"y":1.8,"a":-69,"m":0.18},{"x":0.8,"y":1.8,"a":-62,"m":0.17},{"x":1,"y":1.8,"a":-60,"m":0.16},{"x":1.2,"y":1.8,"a":-63,"m":0.15},{"x":1.4,"y":1.8,"a":-75,"m":0.14},{"x":1.6,"y":1.8,"a":-100,"m":0.13},{"x":1.8,"y":1.8,"a":-120,"m":0.12},{"x":2,"y":1.8,"a":-150,"m":0.11},{"x":2.2,"y":1.8,"a":-170,"m":0.1},{"x":2.4,"y":1.8,"a":180,"m":0.1},{"x":2.6,"y":1.8,"a":170,"m":0.09},{"x":2.8,"y":1.8,"a":145,"m":0.08},{"x":3,"y":1.8,"a":115,"m":0.07},{"x":3.2,"y":1.8,"a":90,"m":0.09},{"x":3.4,"y":1.8,"a":70,"m":0.11},{"x":3.6,"y":1.8,"a":60,"m":0.12},{"x":3.8,"y":1.8,"a":58,"m":0.13},{"x":4,"y":1.8,"a":67,"m":0.12},{"x":4.2,"y":1.8,"a":72,"m":0.14},{"x":4.4,"y":1.8,"a":80,"m":0.15},{"x":4.6,"y":1.8,"a":85,"m":0.16},{"x":4.8,"y":1.8,"a":92,"m":0.18},{"x":5,"y":1.8,"a":96,"m":0.19},{"x":5.2,"y":1.8,"a":101,"m":0.2},{"x":5.4,"y":1.8,"a":105,"m":0.22},{"x":5.6,"y":1.8,"a":104,"m":0.23},{"x":5.8,"y":1.8,"a":99,"m":0.24},{"x":6,"y":1.8,"a":94,"m":0.25},
{"x":0,"y":1.6,"a":-87,"m":0.22},{"x":0.2,"y":1.6,"a":-82,"m":0.19},{"x":0.4,"y":1.6,"a":-75,"m":0.19},{"x":0.6,"y":1.6,"a":-68,"m":0.18},{"x":0.8,"y":1.6,"a":-62,"m":0.17},{"x":1,"y":1.6,"a":-62,"m":0.16},{"x":1.2,"y":1.6,"a":-70,"m":0.15},{"x":1.4,"y":1.6,"a":-90,"m":0.14},{"x":1.6,"y":1.6,"a":-115,"m":0.13},{"x":1.8,"y":1.6,"a":-125,"m":0.12},{"x":2,"y":1.6,"a":-155,"m":0.11},{"x":2.2,"y":1.6,"a":-170,"m":0.1},{"x":2.4,"y":1.6,"a":180,"m":0.1},{"x":2.6,"y":1.6,"a":165,"m":0.08},{"x":2.8,"y":1.6,"a":135,"m":0.07},{"x":3,"y":1.6,"a":100,"m":0.07},{"x":3.2,"y":1.6,"a":80,"m":0.09},{"x":3.4,"y":1.6,"a":65,"m":0.11},{"x":3.6,"y":1.6,"a":60,"m":0.13},{"x":3.8,"y":1.6,"a":58,"m":0.13},{"x":4,"y":1.6,"a":70,"m":0.13},{"x":4.2,"y":1.6,"a":75,"m":0.14},{"x":4.4,"y":1.6,"a":85,"m":0.15},{"x":4.6,"y":1.6,"a":90,"m":0.17},{"x":4.8,"y":1.6,"a":96,"m":0.18},{"x":5,"y":1.6,"a":100,"m":0.19},{"x":5.2,"y":1.6,"a":103,"m":0.21},{"x":5.4,"y":1.6,"a":105,"m":0.22},{"x":5.6,"y":1.6,"a":103,"m":0.23},{"x":5.8,"y":1.6,"a":98,"m":0.24},{"x":6,"y":1.6,"a":93,"m":0.25},
{"x":0,"y":1.4,"a":-86,"m":0.23},{"x":0.2,"y":1.4,"a":-80,"m":0.18},{"x":0.4,"y":1.4,"a":-73,"m":0.18},{"x":0.6,"y":1.4,"a":-68,"m":0.18},{"x":0.8,"y":1.4,"a":-65,"m":0.17},{"x":1,"y":1.4,"a":-66,"m":0.16},{"x":1.2,"y":1.4,"a":-72,"m":0.15},{"x":1.4,"y":1.4,"a":-95,"m":0.14},{"x":1.6,"y":1.4,"a":-120,"m":0.13},{"x":1.8,"y":1.4,"a":-135,"m":0.12},{"x":2,"y":1.4,"a":-160,"m":0.11},{"x":2.2,"y":1.4,"a":-170,"m":0.1},{"x":2.4,"y":1.4,"a":180,"m":0.09},{"x":2.6,"y":1.4,"a":160,"m":0.07},{"x":2.8,"y":1.4,"a":120,"m":0.06},{"x":3,"y":1.4,"a":80,"m":0.07},{"x":3.2,"y":1.4,"a":70,"m":0.09},{"x":3.4,"y":1.4,"a":62,"m":0.12},{"x":3.6,"y":1.4,"a":60,"m":0.13},{"x":3.8,"y":1.4,"a":58,"m":0.14},{"x":4,"y":1.4,"a":72,"m":0.13},{"x":4.2,"y":1.4,"a":78,"m":0.14},{"x":4.4,"y":1.4,"a":88,"m":0.15},{"x":4.6,"y":1.4,"a":95,"m":0.17},{"x":4.8,"y":1.4,"a":100,"m":0.18},{"x":5,"y":1.4,"a":103,"m":0.19},{"x":5.2,"y":1.4,"a":105,"m":0.21},{"x":5.4,"y":1.4,"a":105,"m":0.22},{"x":5.6,"y":1.4,"a":102,"m":0.23},{"x":5.8,"y":1.4,"a":97,"m":0.24},{"x":6,"y":1.4,"a":92,"m":0.25},
{"x":0,"y":1.2,"a":-86,"m":0.24},{"x":0.2,"y":1.2,"a":-78,"m":0.18},{"x":0.4,"y":1.2,"a":-72,"m":0.18},{"x":0.6,"y":1.2,"a":-68,"m":0.17},{"x":0.8,"y":1.2,"a":-68,"m":0.17},{"x":1,"y":1.2,"a":-72,"m":0.16},{"x":1.2,"y":1.2,"a":-85,"m":0.15},{"x":1.4,"y":1.2,"a":-100,"m":0.14},{"x":1.6,"y":1.2,"a":-130,"m":0.13},{"x":1.8,"y":1.2,"a":-140,"m":0.12},{"x":2,"y":1.2,"a":-160,"m":0.11},{"x":2.2,"y":1.2,"a":-170,"m":0.1},{"x":2.4,"y":1.2,"a":180,"m":0.09},{"x":2.6,"y":1.2,"a":160,"m":0.06},{"x":2.8,"y":1.2,"a":100,"m":0.04},{"x":3,"y":1.2,"a":70,"m":0.06},{"x":3.2,"y":1.2,"a":62,"m":0.09},{"x":3.4,"y":1.2,"a":60,"m":0.11},{"x":3.6,"y":1.2,"a":58,"m":0.12},{"x":3.8,"y":1.2,"a":58,"m":0.13},{"x":4,"y":1.2,"a":75,"m":0.12},{"x":4.2,"y":1.2,"a":82,"m":0.13},{"x":4.4,"y":1.2,"a":92,"m":0.15},{"x":4.6,"y":1.2,"a":100,"m":0.16},{"x":4.8,"y":1.2,"a":105,"m":0.17},{"x":5,"y":1.2,"a":107,"m":0.19},{"x":5.2,"y":1.2,"a":107,"m":0.2},{"x":5.4,"y":1.2,"a":105,"m":0.21},{"x":5.6,"y":1.2,"a":101,"m":0.22},{"x":5.8,"y":1.2,"a":95,"m":0.23},{"x":6,"y":1.2,"a":90,"m":0.24},
{"x":0,"y":1,"a":-86,"m":0.25},{"x":0.2,"y":1,"a":-75,"m":0.17},{"x":0.4,"y":1,"a":-72,"m":0.17},{"x":0.6,"y":1,"a":-70,"m":0.17},{"x":0.8,"y":1,"a":-72,"m":0.16},{"x":1,"y":1,"a":-80,"m":0.15},{"x":1.2,"y":1,"a":-90,"m":0.14},{"x":1.4,"y":1,"a":-110,"m":0.13},{"x":1.6,"y":1,"a":-135,"m":0.12},{"x":1.8,"y":1,"a":-145,"m":0.12},{"x":2,"y":1,"a":-160,"m":0.11},{"x":2.2,"y":1,"a":-170,"m":0.1},{"x":2.4,"y":1,"a":180,"m":0.08},{"x":2.6,"y":1,"a":170,"m":0.05},{"x":2.8,"y":1,"a":90,"m":0.02},{"x":3,"y":1,"a":50,"m":0.06},{"x":3.2,"y":1,"a":50,"m":0.08},{"x":3.4,"y":1,"a":50,"m":0.1},{"x":3.6,"y":1,"a":52,"m":0.12},{"x":3.8,"y":1,"a":60,"m":0.13},{"x":4,"y":1,"a":78,"m":0.11},{"x":4.2,"y":1,"a":85,"m":0.13},{"x":4.4,"y":1,"a":95,"m":0.15},{"x":4.6,"y":1,"a":105,"m":0.16},{"x":4.8,"y":1,"a":110,"m":0.17},{"x":5,"y":1,"a":110,"m":0.18},{"x":5.2,"y":1,"a":108,"m":0.2},{"x":5.4,"y":1,"a":105,"m":0.21},{"x":5.6,"y":1,"a":100,"m":0.22},{"x":5.8,"y":1,"a":92,"m":0.23},{"x":6,"y":1,"a":88,"m":0.24},
{"x":0,"y":0.8,"a":-86,"m":0.25},{"x":0.2,"y":0.8,"a":-73,"m":0.17},{"x":0.4,"y":0.8,"a":-71,"m":0.17},{"x":0.6,"y":0.8,"a":-72,"m":0.17},{"x":0.8,"y":0.8,"a":-77,"m":0.16},{"x":1,"y":0.8,"a":-85,"m":0.15},{"x":1.2,"y":0.8,"a":-92,"m":0.14},{"x":1.4,"y":0.8,"a":-110,"m":0.13},{"x":1.6,"y":0.8,"a":-128,"m":0.12},{"x":1.8,"y":0.8,"a":-138,"m":0.11},{"x":2,"y":0.8,"a":-162,"m":0.1},{"x":2.2,"y":0.8,"a":-175,"m":0.09},{"x":2.4,"y":0.8,"a":180,"m":0.07},{"x":2.6,"y":0.8,"a":175,"m":0.04},{"x":2.8,"y":0.8,"a":40,"m":0.03},{"x":3,"y":0.8,"a":30,"m":0.05},{"x":3.2,"y":0.8,"a":40,"m":0.07},{"x":3.4,"y":0.8,"a":45,"m":0.09},{"x":3.6,"y":0.8,"a":52,"m":0.1},{"x":3.8,"y":0.8,"a":62,"m":0.11},{"x":4,"y":0.8,"a":85,"m":0.1},{"x":4.2,"y":0.8,"a":90,"m":0.11},{"x":4.4,"y":0.8,"a":100,"m":0.13},{"x":4.6,"y":0.8,"a":110,"m":0.15},{"x":4.8,"y":0.8,"a":110,"m":0.16},{"x":5,"y":0.8,"a":108,"m":0.18},{"x":5.2,"y":0.8,"a":104,"m":0.19},{"x":5.4,"y":0.8,"a":100,"m":0.2},{"x":5.6,"y":0.8,"a":96,"m":0.21},{"x":5.8,"y":0.8,"a":91,"m":0.22},{"x":6,"y":0.8,"a":88,"m":0.23},
{"x":0,"y":0.6,"a":-87,"m":0.25},{"x":0.2,"y":0.6,"a":-72,"m":0.17},{"x":0.4,"y":0.6,"a":-70,"m":0.17},{"x":0.6,"y":0.6,"a":-75,"m":0.17},{"x":0.8,"y":0.6,"a":-82,"m":0.16},{"x":1,"y":0.6,"a":-90,"m":0.15},{"x":1.2,"y":0.6,"a":-95,"m":0.14},{"x":1.4,"y":0.6,"a":-110,"m":0.13},{"x":1.6,"y":0.6,"a":-120,"m":0.12},{"x":1.8,"y":0.6,"a":-130,"m":0.1},{"x":2,"y":0.6,"a":-165,"m":0.09},{"x":2.2,"y":0.6,"a":180,"m":0.08},{"x":2.4,"y":0.6,"a":180,"m":0.06},{"x":2.6,"y":0.6,"a":175,"m":0.03},{"x":2.8,"y":0.6,"a":10,"m":0.04},{"x":3,"y":0.6,"a":10,"m":0.05},{"x":3.2,"y":0.6,"a":30,"m":0.07},{"x":3.4,"y":0.6,"a":40,"m":0.08},{"x":3.6,"y":0.6,"a":50,"m":0.09},{"x":3.8,"y":0.6,"a":62,"m":0.09},{"x":4,"y":0.6,"a":92,"m":0.08},{"x":4.2,"y":0.6,"a":97,"m":0.1},{"x":4.4,"y":0.6,"a":105,"m":0.12},{"x":4.6,"y":0.6,"a":115,"m":0.14},{"x":4.8,"y":0.6,"a":110,"m":0.16},{"x":5,"y":0.6,"a":105,"m":0.17},{"x":5.2,"y":0.6,"a":100,"m":0.18},{"x":5.4,"y":0.6,"a":95,"m":0.2},{"x":5.6,"y":0.6,"a":92,"m":0.21},{"x":5.8,"y":0.6,"a":90,"m":0.22},{"x":6,"y":0.6,"a":88,"m":0.23},
{"x":0,"y":0.4,"a":-87,"m":0.26},{"x":0.2,"y":0.4,"a":-75,"m":0.19},{"x":0.4,"y":0.4,"a":-73,"m":0.19},{"x":0.6,"y":0.4,"a":-78,"m":0.19},{"x":0.8,"y":0.4,"a":-85,"m":0.18},{"x":1,"y":0.4,"a":-92,"m":0.17},{"x":1.2,"y":0.4,"a":-100,"m":0.16},{"x":1.4,"y":0.4,"a":-110,"m":0.15},{"x":1.6,"y":0.4,"a":-118,"m":0.14},{"x":1.8,"y":0.4,"a":-120,"m":0.12},{"x":2,"y":0.4,"a":-150,"m":0.1},{"x":2.2,"y":0.4,"a":-170,"m":0.08},{"x":2.4,"y":0.4,"a":-175,"m":0.05},{"x":2.6,"y":0.4,"a":-150,"m":0.02},{"x":2.8,"y":0.4,"a":-5,"m":0.05},{"x":3,"y":0.4,"a":5,"m":0.06},{"x":3.2,"y":0.4,"a":20,"m":0.07},{"x":3.4,"y":0.4,"a":30,"m":0.08},{"x":3.6,"y":0.4,"a":45,"m":0.08},{"x":3.8,"y":0.4,"a":62,"m":0.08},{"x":4,"y":0.4,"a":100,"m":0.07},{"x":4.2,"y":0.4,"a":105,"m":0.09},{"x":4.4,"y":0.4,"a":112,"m":0.11},{"x":4.6,"y":0.4,"a":115,"m":0.13},{"x":4.8,"y":0.4,"a":108,"m":0.15},{"x":5,"y":0.4,"a":100,"m":0.16},{"x":5.2,"y":0.4,"a":95,"m":0.17},{"x":5.4,"y":0.4,"a":90,"m":0.19},{"x":5.6,"y":0.4,"a":88,"m":0.2},{"x":5.8,"y":0.4,"a":85,"m":0.21},{"x":6,"y":0.4,"a":84,"m":0.22},
{"x":0,"y":0.2,"a":-86,"m":0.27},{"x":0.2,"y":0.2,"a":-77,"m":0.21},{"x":0.4,"y":0.2,"a":-75,"m":0.21},{"x":0.6,"y":0.2,"a":-80,"m":0.21},{"x":0.8,"y":0.2,"a":-88,"m":0.2},{"x":1,"y":0.2,"a":-93,"m":0.19},{"x":1.2,"y":0.2,"a":-102,"m":0.17},{"x":1.4,"y":0.2,"a":-110,"m":0.16},{"x":1.6,"y":0.2,"a":-116,"m":0.15},{"x":1.8,"y":0.2,"a":-115,"m":0.13},{"x":2,"y":0.2,"a":-130,"m":0.1},{"x":2.2,"y":0.2,"a":-145,"m":0.08},{"x":2.4,"y":0.2,"a":-150,"m":0.06},{"x":2.6,"y":0.2,"a":-60,"m":0.04},{"x":2.8,"y":0.2,"a":-10,"m":0.06},{"x":3,"y":0.2,"a":2,"m":0.07},{"x":3.2,"y":0.2,"a":12,"m":0.07},{"x":3.4,"y":0.2,"a":25,"m":0.07},{"x":3.6,"y":0.2,"a":40,"m":0.07},{"x":3.8,"y":0.2,"a":65,"m":0.06},{"x":4,"y":0.2,"a":110,"m":0.06},{"x":4.2,"y":0.2,"a":115,"m":0.08},{"x":4.4,"y":0.2,"a":115,"m":0.1},{"x":4.6,"y":0.2,"a":115,"m":0.12},{"x":4.8,"y":0.2,"a":107,"m":0.14},{"x":5,"y":0.2,"a":98,"m":0.16},{"x":5.2,"y":0.2,"a":92,"m":0.17},{"x":5.4,"y":0.2,"a":86,"m":0.18},{"x":5.6,"y":0.2,"a":84,"m":0.19},{"x":5.8,"y":0.2,"a":82,"m":0.2},{"x":6,"y":0.2,"a":80,"m":0.21},
{"x":0,"y":0,"a":-86,"m":0.28},{"x":0.2,"y":0,"a":-80,"m":0.22},{"x":0.4,"y":0,"a":-78,"m":0.22},{"x":0.6,"y":0,"a":-85,"m":0.21},{"x":0.8,"y":0,"a":-90,"m":0.2},{"x":1,"y":0,"a":-95,"m":0.19},{"x":1.2,"y":0,"a":-105,"m":0.17},{"x":1.4,"y":0,"a":-110,"m":0.16},{"x":1.6,"y":0,"a":-115,"m":0.15},{"x":1.8,"y":0,"a":-105,"m":0.13},{"x":2,"y":0,"a":-95,"m":0.11},{"x":2.2,"y":0,"a":-75,"m":0.09},{"x":2.4,"y":0,"a":-55,"m":0.09},{"x":2.6,"y":0,"a":-35,"m":0.08},{"x":2.8,"y":0,"a":-15,"m":0.08},{"x":3,"y":0,"a":0,"m":0.07},{"x":3.2,"y":0,"a":8,"m":0.07},{"x":3.4,"y":0,"a":18,"m":0.06},{"x":3.6,"y":0,"a":35,"m":0.05},{"x":3.8,"y":0,"a":75,"m":0.04},{"x":4,"y":0,"a":115,"m":0.06},{"x":4.2,"y":0,"a":125,"m":0.08},{"x":4.4,"y":0,"a":120,"m":0.1},{"x":4.6,"y":0,"a":115,"m":0.12},{"x":4.8,"y":0,"a":105,"m":0.14},{"x":5,"y":0,"a":95,"m":0.15},{"x":5.2,"y":0,"a":88,"m":0.17},{"x":5.4,"y":0,"a":82,"m":0.18},{"x":5.6,"y":0,"a":80,"m":0.19},{"x":5.8,"y":0,"a":78,"m":0.2},{"x":6,"y":0,"a":78,"m":0.21},
{"x":0,"y":-0.2,"a":-86,"m":0.29},{"x":0.2,"y":-0.2,"a":-82,"m":0.24},{"x":0.4,"y":-0.2,"a":-83,"m":0.24},{"x":0.6,"y":-0.2,"a":-88,"m":0.24},{"x":0.8,"y":-0.2,"a":-95,"m":0.23},{"x":1,"y":-0.2,"a":-100,"m":0.21},{"x":1.2,"y":-0.2,"a":-108,"m":0.19},{"x":1.4,"y":-0.2,"a":-110,"m":0.17},{"x":1.6,"y":-0.2,"a":-112,"m":0.16},{"x":1.8,"y":-0.2,"a":-98,"m":0.13},{"x":2,"y":-0.2,"a":-80,"m":0.12},{"x":2.2,"y":-0.2,"a":-60,"m":0.1},{"x":2.4,"y":-0.2,"a":-45,"m":0.1},{"x":2.6,"y":-0.2,"a":-32,"m":0.09},{"x":2.8,"y":-0.2,"a":-20,"m":0.08},{"x":3,"y":-0.2,"a":-10,"m":0.08},{"x":3.2,"y":-0.2,"a":-3,"m":0.07},{"x":3.4,"y":-0.2,"a":3,"m":0.06},{"x":3.6,"y":-0.2,"a":12,"m":0.05},{"x":3.8,"y":-0.2,"a":60,"m":0.03},{"x":4,"y":-0.2,"a":130,"m":0.06},{"x":4.2,"y":-0.2,"a":133,"m":0.08},{"x":4.4,"y":-0.2,"a":128,"m":0.09},{"x":4.6,"y":-0.2,"a":118,"m":0.12},{"x":4.8,"y":-0.2,"a":105,"m":0.13},{"x":5,"y":-0.2,"a":92,"m":0.15},{"x":5.2,"y":-0.2,"a":84,"m":0.16},{"x":5.4,"y":-0.2,"a":77,"m":0.18},{"x":5.6,"y":-0.2,"a":74,"m":0.19},{"x":5.8,"y":-0.2,"a":73,"m":0.2},{"x":6,"y":-0.2,"a":73,"m":0.21},
{"x":0,"y":-0.4,"a":-87,"m":0.3},{"x":0.2,"y":-0.4,"a":-85,"m":0.26},{"x":0.4,"y":-0.4,"a":-88,"m":0.26},{"x":0.6,"y":-0.4,"a":-92,"m":0.26},{"x":0.8,"y":-0.4,"a":-100,"m":0.25},{"x":1,"y":-0.4,"a":-105,"m":0.23},{"x":1.2,"y":-0.4,"a":-110,"m":0.21},{"x":1.4,"y":-0.4,"a":-110,"m":0.18},{"x":1.6,"y":-0.4,"a":-110,"m":0.16},{"x":1.8,"y":-0.4,"a":-92,"m":0.14},{"x":2,"y":-0.4,"a":-78,"m":0.12},{"x":2.2,"y":-0.4,"a":-60,"m":0.11},{"x":2.4,"y":-0.4,"a":-48,"m":0.11},{"x":2.6,"y":-0.4,"a":-38,"m":0.1},{"x":2.8,"y":-0.4,"a":-28,"m":0.09},{"x":3,"y":-0.4,"a":-18,"m":0.08},{"x":3.2,"y":-0.4,"a":-10,"m":0.07},{"x":3.4,"y":-0.4,"a":-3,"m":0.06},{"x":3.6,"y":-0.4,"a":3,"m":0.05},{"x":3.8,"y":-0.4,"a":90,"m":0.02},{"x":4,"y":-0.4,"a":140,"m":0.06},{"x":4.2,"y":-0.4,"a":140,"m":0.08},{"x":4.4,"y":-0.4,"a":135,"m":0.09},{"x":4.6,"y":-0.4,"a":120,"m":0.12},{"x":4.8,"y":-0.4,"a":105,"m":0.13},{"x":5,"y":-0.4,"a":90,"m":0.15},{"x":5.2,"y":-0.4,"a":80,"m":0.17},{"x":5.4,"y":-0.4,"a":72,"m":0.18},{"x":5.6,"y":-0.4,"a":68,"m":0.19},{"x":5.8,"y":-0.4,"a":68,"m":0.2},{"x":6,"y":-0.4,"a":68,"m":0.21},
{"x":0,"y":-0.6,"a":-87,"m":0.31},{"x":0.2,"y":-0.6,"a":-88,"m":0.28},{"x":0.4,"y":-0.6,"a":-92,"m":0.29},{"x":0.6,"y":-0.6,"a":-96,"m":0.3},{"x":0.8,"y":-0.6,"a":-103,"m":0.29},{"x":1,"y":-0.6,"a":-105,"m":0.27},{"x":1.2,"y":-0.6,"a":-110,"m":0.24},{"x":1.4,"y":-0.6,"a":-110,"m":0.21},{"x":1.6,"y":-0.6,"a":-105,"m":0.17},{"x":1.8,"y":-0.6,"a":-90,"m":0.14},{"x":2,"y":-0.6,"a":-80,"m":0.13},{"x":2.2,"y":-0.6,"a":-65,"m":0.12},{"x":2.4,"y":-0.6,"a":-52,"m":0.12},{"x":2.6,"y":-0.6,"a":-42,"m":0.1},{"x":2.8,"y":-0.6,"a":-32,"m":0.09},{"x":3,"y":-0.6,"a":-22,"m":0.08},{"x":3.2,"y":-0.6,"a":-12,"m":0.07},{"x":3.4,"y":-0.6,"a":-5,"m":0.06},{"x":3.6,"y":-0.6,"a":0,"m":0.05},{"x":3.8,"y":-0.6,"a":120,"m":0.02},{"x":4,"y":-0.6,"a":155,"m":0.06},{"x":4.2,"y":-0.6,"a":148,"m":0.08},{"x":4.4,"y":-0.6,"a":140,"m":0.09},{"x":4.6,"y":-0.6,"a":120,"m":0.12},{"x":4.8,"y":-0.6,"a":103,"m":0.14},{"x":5,"y":-0.6,"a":88,"m":0.15},{"x":5.2,"y":-0.6,"a":75,"m":0.17},{"x":5.4,"y":-0.6,"a":68,"m":0.18},{"x":5.6,"y":-0.6,"a":64,"m":0.19},{"x":5.8,"y":-0.6,"a":64,"m":0.21},{"x":6,"y":-0.6,"a":64,"m":0.22},
{"x":0,"y":-0.8,"a":-88,"m":0.32},{"x":0.2,"y":-0.8,"a":-90,"m":0.3},{"x":0.4,"y":-0.8,"a":-95,"m":0.31},{"x":0.6,"y":-0.8,"a":-100,"m":0.32},{"x":0.8,"y":-0.8,"a":-105,"m":0.31},{"x":1,"y":-0.8,"a":-105,"m":0.29},{"x":1.2,"y":-0.8,"a":-110,"m":0.25},{"x":1.4,"y":-0.8,"a":-110,"m":0.22},{"x":1.6,"y":-0.8,"a":-100,"m":0.17},{"x":1.8,"y":-0.8,"a":-90,"m":0.14},{"x":2,"y":-0.8,"a":-85,"m":0.13},{"x":2.2,"y":-0.8,"a":-70,"m":0.12},{"x":2.4,"y":-0.8,"a":-55,"m":0.11},{"x":2.6,"y":-0.8,"a":-45,"m":0.1},{"x":2.8,"y":-0.8,"a":-35,"m":0.09},{"x":3,"y":-0.8,"a":-25,"m":0.08},{"x":3.2,"y":-0.8,"a":-15,"m":0.07},{"x":3.4,"y":-0.8,"a":-5,"m":0.06},{"x":3.6,"y":-0.8,"a":0,"m":0.05},{"x":3.8,"y":-0.8,"a":140,"m":0.02},{"x":4,"y":-0.8,"a":165,"m":0.06},{"x":4.2,"y":-0.8,"a":155,"m":0.08},{"x":4.4,"y":-0.8,"a":145,"m":0.09},{"x":4.6,"y":-0.8,"a":120,"m":0.12},{"x":4.8,"y":-0.8,"a":100,"m":0.14},{"x":5,"y":-0.8,"a":85,"m":0.15},{"x":5.2,"y":-0.8,"a":70,"m":0.17},{"x":5.4,"y":-0.8,"a":65,"m":0.18},{"x":5.6,"y":-0.8,"a":60,"m":0.2},{"x":5.8,"y":-0.8,"a":60,"m":0.22},{"x":6,"y":-0.8,"a":60,"m":0.23},
{"x":0,"y":-1,"a":-88,"m":0.33},{"x":0.2,"y":-1,"a":-92,"m":0.31},{"x":0.4,"y":-1,"a":-97,"m":0.32},{"x":0.6,"y":-1,"a":-102,"m":0.33},{"x":0.8,"y":-1,"a":-106,"m":0.32},{"x":1,"y":-1,"a":-107,"m":0.3},{"x":1.2,"y":-1,"a":-110,"m":0.26},{"x":1.4,"y":-1,"a":-110,"m":0.22},{"x":1.6,"y":-1,"a":-98,"m":0.17},{"x":1.8,"y":-1,"a":-92,"m":0.14},{"x":2,"y":-1,"a":-88,"m":0.13},{"x":2.2,"y":-1,"a":-75,"m":0.12},{"x":2.4,"y":-1,"a":-60,"m":0.11},{"x":2.6,"y":-1,"a":-48,"m":0.1},{"x":2.8,"y":-1,"a":-38,"m":0.09},{"x":3,"y":-1,"a":-28,"m":0.08},{"x":3.2,"y":-1,"a":-18,"m":0.07},{"x":3.4,"y":-1,"a":-8,"m":0.06},{"x":3.6,"y":-1,"a":-2,"m":0.05},{"x":3.8,"y":-1,"a":155,"m":0.03},{"x":4,"y":-1,"a":170,"m":0.06},{"x":4.2,"y":-1,"a":160,"m":0.08},{"x":4.4,"y":-1,"a":150,"m":0.1},{"x":4.6,"y":-1,"a":125,"m":0.12},{"x":4.8,"y":-1,"a":100,"m":0.14},{"x":5,"y":-1,"a":82,"m":0.15},{"x":5.2,"y":-1,"a":68,"m":0.17},{"x":5.4,"y":-1,"a":62,"m":0.19},{"x":5.6,"y":-1,"a":58,"m":0.21},{"x":5.8,"y":-1,"a":57,"m":0.22},{"x":6,"y":-1,"a":57,"m":0.23}
    ],
    "path": [
      {"i": 0, "x": 0, "y": 0},
      {"i": 1, "x": 0.42, "y": -0.03},
      {"i": 2, "x": 0.78, "y": -0.08},
      {"i": 3, "x": 1.11, "y": -0.17},
      {"i": 4, "x": 1.43, "y": -0.27},
      {"i": 5, "x": 1.71, "y": -0.33},
      {"i": 6, "x": 1.92, "y": -0.34},
      {"i": 7, "x": 2.1, "y": -0.31},
      {"i": 8, "x": 2.23, "y": -0.24},
      {"i": 9, "x": 2.35, "y": -0.17},
      {"i": 10, "x": 2.43, "y": -0.08},
      {"i": 11, "x": 2.48, "y": 0.01},
      {"i": 12, "x": 2.45, "y": 0.12},
      {"i": 13, "x": 2.42, "y": 0.23},
      {"i": 14, "x": 2.41, "y": 0.33},
      {"i": 15, "x": 2.42, "y": 0.43},
      {"i": 16, "x": 2.45, "y": 0.52},
      {"i": 17, "x": 2.49, "y": 0.6},
      {"i": 18, "x": 2.53, "y": 0.66},
      {"i": 19, "x": 2.56, "y": 0.7},
      {"i": 20, "x": 2.58, "y": 0.72},
      {"i": 21, "x": 2.6, "y": 0.71},
      {"i": 22, "x": 2.61, "y": 0.69},
      {"i": 23, "x": 2.62, "y": 0.66},
      {"i": 24, "x": 2.62, "y": 0.62},
      {"i": 25, "x": 2.62, "y": 0.58},
      {"i": 26, "x": 2.62, "y": 0.53},
      {"i": 27, "x": 2.61, "y": 0.48},
      {"i": 28, "x": 2.6, "y": 0.42},
      {"i": 29, "x": 2.59, "y": 0.36},
      {"i": 30, "x": 2.58, "y": 0.29},
      {"i": 31, "x": 2.57, "y": 0.22},
      {"i": 32, "x": 2.56, "y": 0.14},
      {"i": 33, "x": 2.57, "y": 0.07},
      {"i": 34, "x": 2.62, "y": 0.02},
      {"i": 35, "x": 2.71, "y": 0.0},
      {"i": 36, "x": 2.84, "y": -0.06},
      {"i": 37, "x": 2.97, "y": -0.08},
      {"i": 38, "x": 3.11, "y": -0.08},
      {"i": 39, "x": 3.26, "y": -0.06},
      {"i": 40, "x": 3.38, "y": -0.02},
      {"i": 41, "x": 3.49, "y": 0.05},
      {"i": 42, "x": 3.57, "y": 0.13},
      {"i": 43, "x": 3.65, "y": 0.24},
      {"i": 44, "x": 3.72, "y": 0.37},
      {"i": 45, "x": 3.8, "y": 0.53},
      {"i": 46, "x": 3.86, "y": 0.72},
      {"i": 47, "x": 3.97, "y": 0.91},
      {"i": 48, "x": 4.06, "y": 1.16},
      {"i": 49, "x": 4.16, "y": 1.41},
      {"i": 50, "x": 4.26, "y": 1.68},
      {"i": 51, "x": 4.37, "y": 1.97},
      {"i": 52, "x": 4.5, "y": 2.26},
      {"i": 53, "x": 4.62, "y": 2.56},
      {"i": 54, "x": 4.76, "y": 2.85},
      {"i": 55, "x": 4.9, "y": 3.13},
      {"i": 56, "x": 5.04, "y": 3.4},
      {"i": 57, "x": 5.19, "y": 3.65},
      {"i": 58, "x": 5.34, "y": 3.91},
      {"i": 59, "x": 5.49, "y": 4.18},
      {"i": 60, "x": 5.66, "y": 4.43},
      {"i": 61, "x": 5.84, "y": 4.71},
      {"i": 62, "x": 6.0, "y": 5.0}
    ]
  },
  "resolve": {"axis": {"x": "independent", "y": "independent"}},
  "layer": [
    {
      "data": {"name": "field"},
      "transform": [
        {"calculate": "datum.x + datum.m * cos(datum.a * PI / 180)", "as": "ex"},
        {"calculate": "datum.y + datum.m * sin(datum.a * PI / 180)", "as": "ey"}
      ],
      "mark": {"type": "rule", "color": "#0072BD", "strokeWidth": 1, "clip": true},
      "encoding": {
        "x": {"field": "x", "type": "quantitative", "scale": {"domain": [0, 6], "nice": false, "zero": false}, "axis": {"orient": "bottom", "values": [0, 1, 2, 3, 4, 5, 6], "ticks": false, "tickSize": 0, "labelPadding": 9, "domain": false, "labelExpr": "'' + datum.value"}},
        "y": {"field": "y", "type": "quantitative", "scale": {"domain": [-1, 6], "nice": false, "zero": false}, "axis": {"orient": "left", "values": [-1, 0, 1, 2, 3, 4, 5, 6], "ticks": false, "tickSize": 0, "labelPadding": 10, "domain": false, "labelExpr": "'' + datum.value"}},
        "x2": {"field": "ex"},
        "y2": {"field": "ey"}
      }
    },
    {
      "data": {"name": "field"},
      "transform": [
        {"calculate": "datum.x + datum.m * cos(datum.a * PI / 180)", "as": "ex"},
        {"calculate": "datum.y + datum.m * sin(datum.a * PI / 180)", "as": "ey"},
        {"calculate": "90 - datum.a", "as": "rot"},
        {"calculate": "2725 * datum.m * datum.m", "as": "hs"}
      ],
      "mark": {"type": "point", "shape": "M-0.36,1L0,0L0.36,1", "filled": false, "stroke": "#0072BD", "strokeWidth": 1, "opacity": 1, "clip": true},
      "encoding": {
        "x": {"field": "ex", "type": "quantitative", "axis": {"orient": "top", "offset": -611, "values": [0, 1, 2, 3, 4, 5, 6], "labels": false, "domain": false, "tickSize": 6}},
        "y": {"field": "ey", "type": "quantitative", "axis": {"orient": "right", "offset": -522, "values": [-1, 0, 1, 2, 3, 4, 5, 6], "labels": false, "domain": false, "tickSize": 6}},
        "angle": {"field": "rot", "type": "quantitative", "scale": null},
        "size": {"field": "hs", "type": "quantitative", "scale": null}
      }
    },
    {
      "data": {"name": "path"},
      "mark": {"type": "line", "color": "#FF0000", "strokeWidth": 1, "clip": true},
      "encoding": {
        "x": {"field": "x", "type": "quantitative", "axis": {"orient": "bottom", "offset": -611, "values": [0, 1, 2, 3, 4, 5, 6], "labels": false, "domain": false, "tickSize": 6}},
        "y": {"field": "y", "type": "quantitative", "axis": {"orient": "left", "offset": -522, "values": [-1, 0, 1, 2, 3, 4, 5, 6], "labels": false, "domain": false, "tickSize": 6}},
        "order": {"field": "i", "type": "quantitative"}
      }
    },
    {
      "data": {"name": "path"},
      "mark": {"type": "point", "shape": "circle", "size": 121, "filled": false, "stroke": "#FF0000", "strokeWidth": 1, "opacity": 1, "clip": true},
      "encoding": {
        "x": {"field": "x", "type": "quantitative", "axis": null},
        "y": {"field": "y", "type": "quantitative", "axis": null}
      }
    }
  ]
}
